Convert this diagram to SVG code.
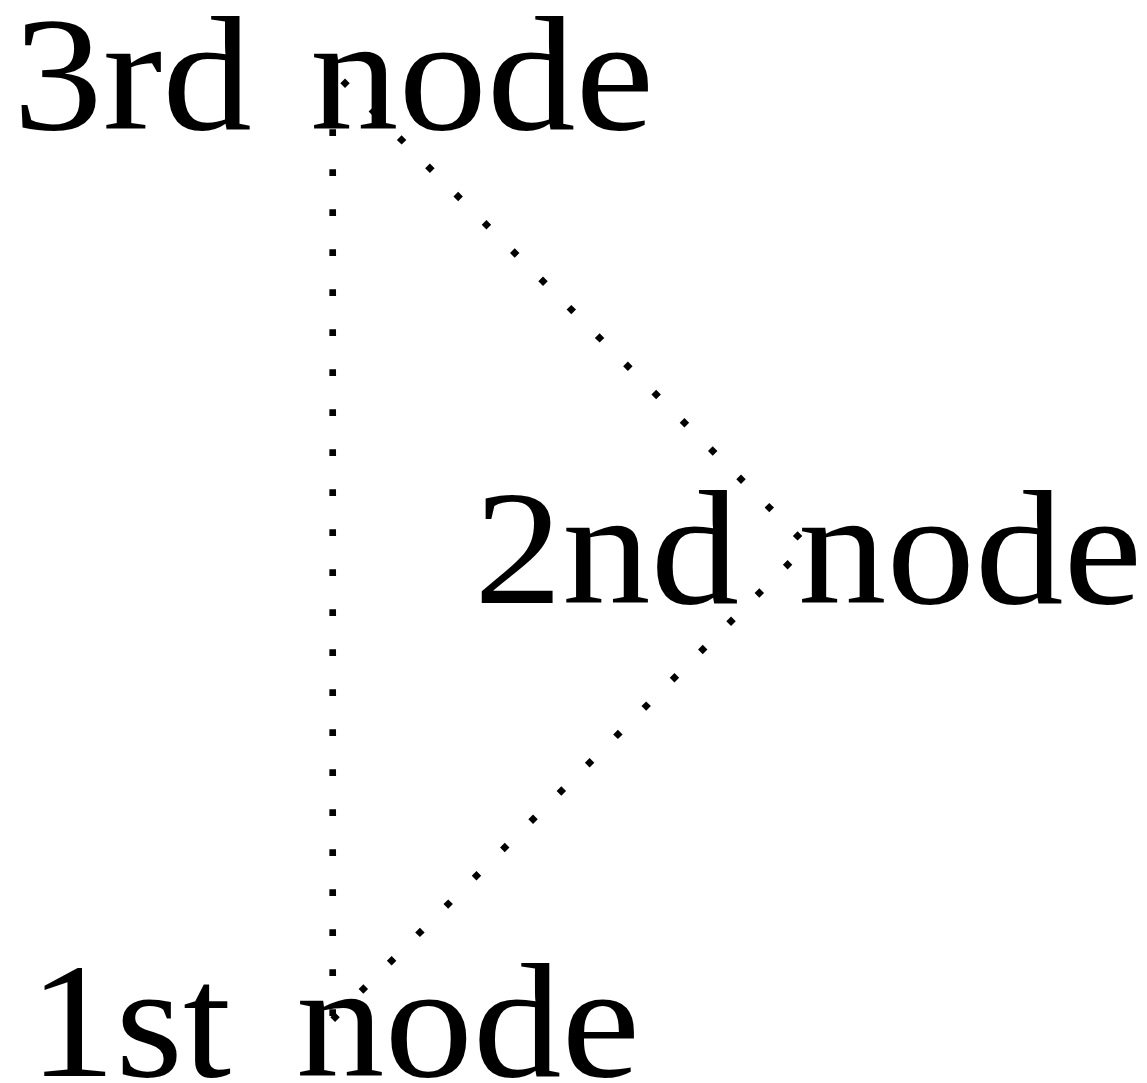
<svg xmlns="http://www.w3.org/2000/svg" width="1147" height="1083" viewBox="0 0 1147 1083">
  <style>
    .lbl { font-family: "Liberation Serif", "Times New Roman", serif; font-size: 164px; fill: #000; }
    .dot { fill: none; stroke: #000; stroke-width: 6.67; stroke-dasharray: 6.67 33.33; stroke-linecap: butt; }
  </style>
  <rect width="1147" height="1083" fill="#fff"/>
  <g id="node-3rd">
    <text class="lbl" x="13" y="129" textLength="239" lengthAdjust="spacingAndGlyphs">3rd</text>
    <text class="lbl" x="310" y="129" textLength="344" lengthAdjust="spacingAndGlyphs">node</text>
  </g>
  <g id="node-2nd">
    <text class="lbl" x="474" y="603" textLength="265" lengthAdjust="spacingAndGlyphs">2nd</text>
    <text class="lbl" x="798" y="603" textLength="344" lengthAdjust="spacingAndGlyphs">node</text>
  </g>
  <g id="node-1st">
    <text class="lbl" x="29" y="1076" textLength="202" lengthAdjust="spacingAndGlyphs">1st</text>
    <text class="lbl" x="296" y="1076" textLength="344" lengthAdjust="spacingAndGlyphs">node</text>
  </g>
  <g id="connectors">
    <line class="dot" x1="332.7" y1="71" x2="332.7" y2="1019.6" stroke-dashoffset="21.7"/>
    <line class="dot" x1="332.7" y1="71" x2="807" y2="545.3" stroke-dashoffset="25.9"/>
    <line class="dot" x1="807" y1="545.3" x2="332.7" y2="1019.6" stroke-dashoffset="15.9"/>
  </g>
</svg>
